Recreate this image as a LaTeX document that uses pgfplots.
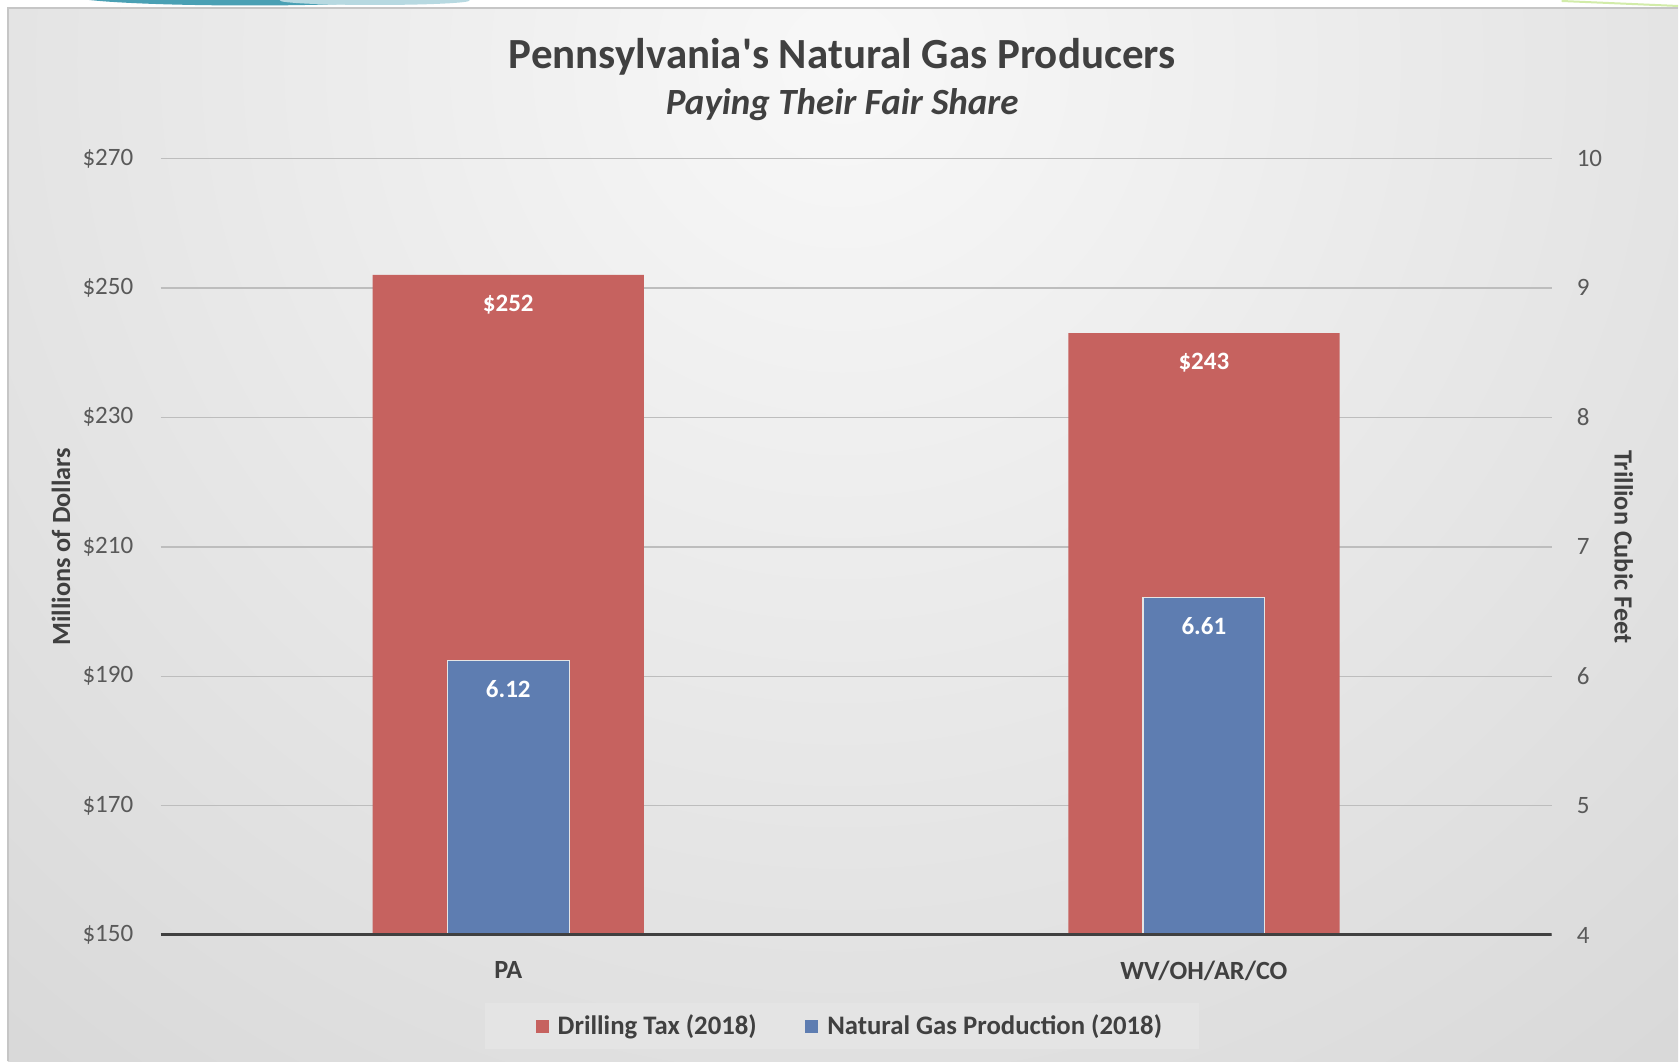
\documentclass[border=0pt]{standalone}
\usepackage{fontspec}
\setmainfont{Carlito}
\usepackage{pgfplots}
\pgfplotsset{compat=1.18}

\definecolor{barred}{HTML}{C6625F}
\definecolor{barblue}{HTML}{5E7DB1}
\definecolor{txtdark}{HTML}{404040}
\definecolor{txttick}{HTML}{595959}
\definecolor{gridc}{HTML}{BDBDBD}
\definecolor{bginner}{HTML}{F8F8F8}
\definecolor{bgouter}{HTML}{BEBEBE}
\definecolor{legbg}{HTML}{E4E4E4}
\definecolor{swoosh}{HTML}{4AA0B4}

\pgfplotsset{
  common/.style={
    width=556.8pt, height=310.96pt, scale only axis,
    at={(64.24pt,50.48pt)}, anchor=south west,
    xmin=-0.5, xmax=1.5,
    axis line style={draw=none},
    tick style={draw=none},
    major tick length=0pt,
    /pgf/number format/assume math mode=true,
    ticklabel style={font=\fontsize{10}{12}\selectfont, text=txttick},
    label style={font=\fontsize{10.5}{12}\selectfont\bfseries, text=txtdark},
    legend image code/.code={\fill[##1,draw=none] (0pt,-2.6pt) rectangle (5.2pt,2.6pt); \path (6.6pt,0pt);},
  },
}

\begin{document}
\begin{tikzpicture}
% page and chart panel
\fill[white] (0,0) rectangle (671.6pt,424.4pt);
\begin{scope}
  \clip (3.2pt,0pt) rectangle (671.6pt,421.6pt);
  \shade[inner color=bginner, outer color=bgouter] (337pt,400pt) circle (960pt);
\end{scope}
\draw[gray!45, line width=0.6pt] (3.2pt,0pt) -- (3.2pt,421.6pt) -- (671.6pt,421.6pt);
\begin{scope}
  \clip (0pt,421.9pt) rectangle (671.6pt,424.4pt);
  \fill[swoosh] (100pt,426.6pt) ellipse (72pt and 4pt);
  \fill[swoosh!40] (150pt,424.6pt) ellipse (38pt and 1.8pt);
\end{scope}
\draw[yellow!50!green!35, line width=0.8pt] (625pt,424.4pt) -- (671.6pt,422.4pt);

% legend box
\fill[legbg] (194pt,4.8pt) rectangle (479.8pt,23.2pt);

% left axis: drilling tax
\begin{axis}[common,
  ymin=150, ymax=270,
  ytick={150,170,...,270},
  yticklabels={\$150,\$170,\$190,\$210,\$230,\$250,\$270},
  yticklabel style={xshift=-7.4pt},
  xtick={0,1},
  xticklabels={PA,WV/OH/AR/CO},
  xticklabel style={font=\fontsize{10.5}{12}\selectfont\bfseries, text=txtdark, yshift=-6.9pt},
  ymajorgrids,
  grid style={gridc, line width=0.6pt},
  ylabel={Millions of Dollars},
  ylabel style={at={(axis description cs:-0.0716,0.5)}, anchor=center},
]
\addplot[ybar, bar width=0.39, bar shift=0pt, fill=barred, draw=none,
  nodes near coords={\$\pgfmathprintnumber{\pgfplotspointmeta}},
  nodes near coords style={font=\fontsize{10}{12}\selectfont\bfseries, text=white, anchor=center, yshift=-12pt},
] coordinates {(0,252) (1,243)};
\end{axis}

% right axis: gas production
\begin{axis}[common,
  ymin=4, ymax=10,
  ytick={4,5,...,10},
  axis y line*=right,
  hide x axis,
  yticklabel style={xshift=6.5pt},
  ylabel={Trillion Cubic Feet},
  ylabel style={at={(axis description cs:1.0517,0.5)}, anchor=center, rotate=180},
  legend style={at={(axis description cs:0.4966,-0.1173)}, anchor=center,
    draw=none, fill=none, legend columns=2,
    font=\fontsize{10.7}{12}\selectfont\bfseries, text=txtdark,
    /tikz/every even column/.append style={column sep=17.4pt}},
]
\addlegendimage{fill=barred}
\addlegendentry{Drilling Tax (2018)}
\addplot[ybar, bar width=0.175, bar shift=0pt, fill=barblue, draw=white!80!gray, line width=0.5pt,
  nodes near coords={\pgfmathprintnumber[fixed,fixed zerofill,precision=2]{\pgfplotspointmeta}},
  nodes near coords style={font=\fontsize{10}{12}\selectfont\bfseries, text=white, anchor=center, yshift=-11.5pt},
] coordinates {(0,6.12) (1,6.61)};
\addlegendentry{Natural Gas Production (2018)}
\draw[txtdark, line width=1.6pt] (rel axis cs:0,0) -- (rel axis cs:1,0);
\end{axis}

% titles
\node[font=\fontsize{17.2}{20}\selectfont\bfseries, text=txtdark] at (337.1pt,402.1pt) {Pennsylvania\textquotesingle s Natural Gas Producers};
\node[font=\fontsize{14.8}{17}\selectfont\bfseries\itshape, text=txtdark] at (337.1pt,382.9pt) {Paying Their Fair Share};
\end{tikzpicture}
\end{document}
